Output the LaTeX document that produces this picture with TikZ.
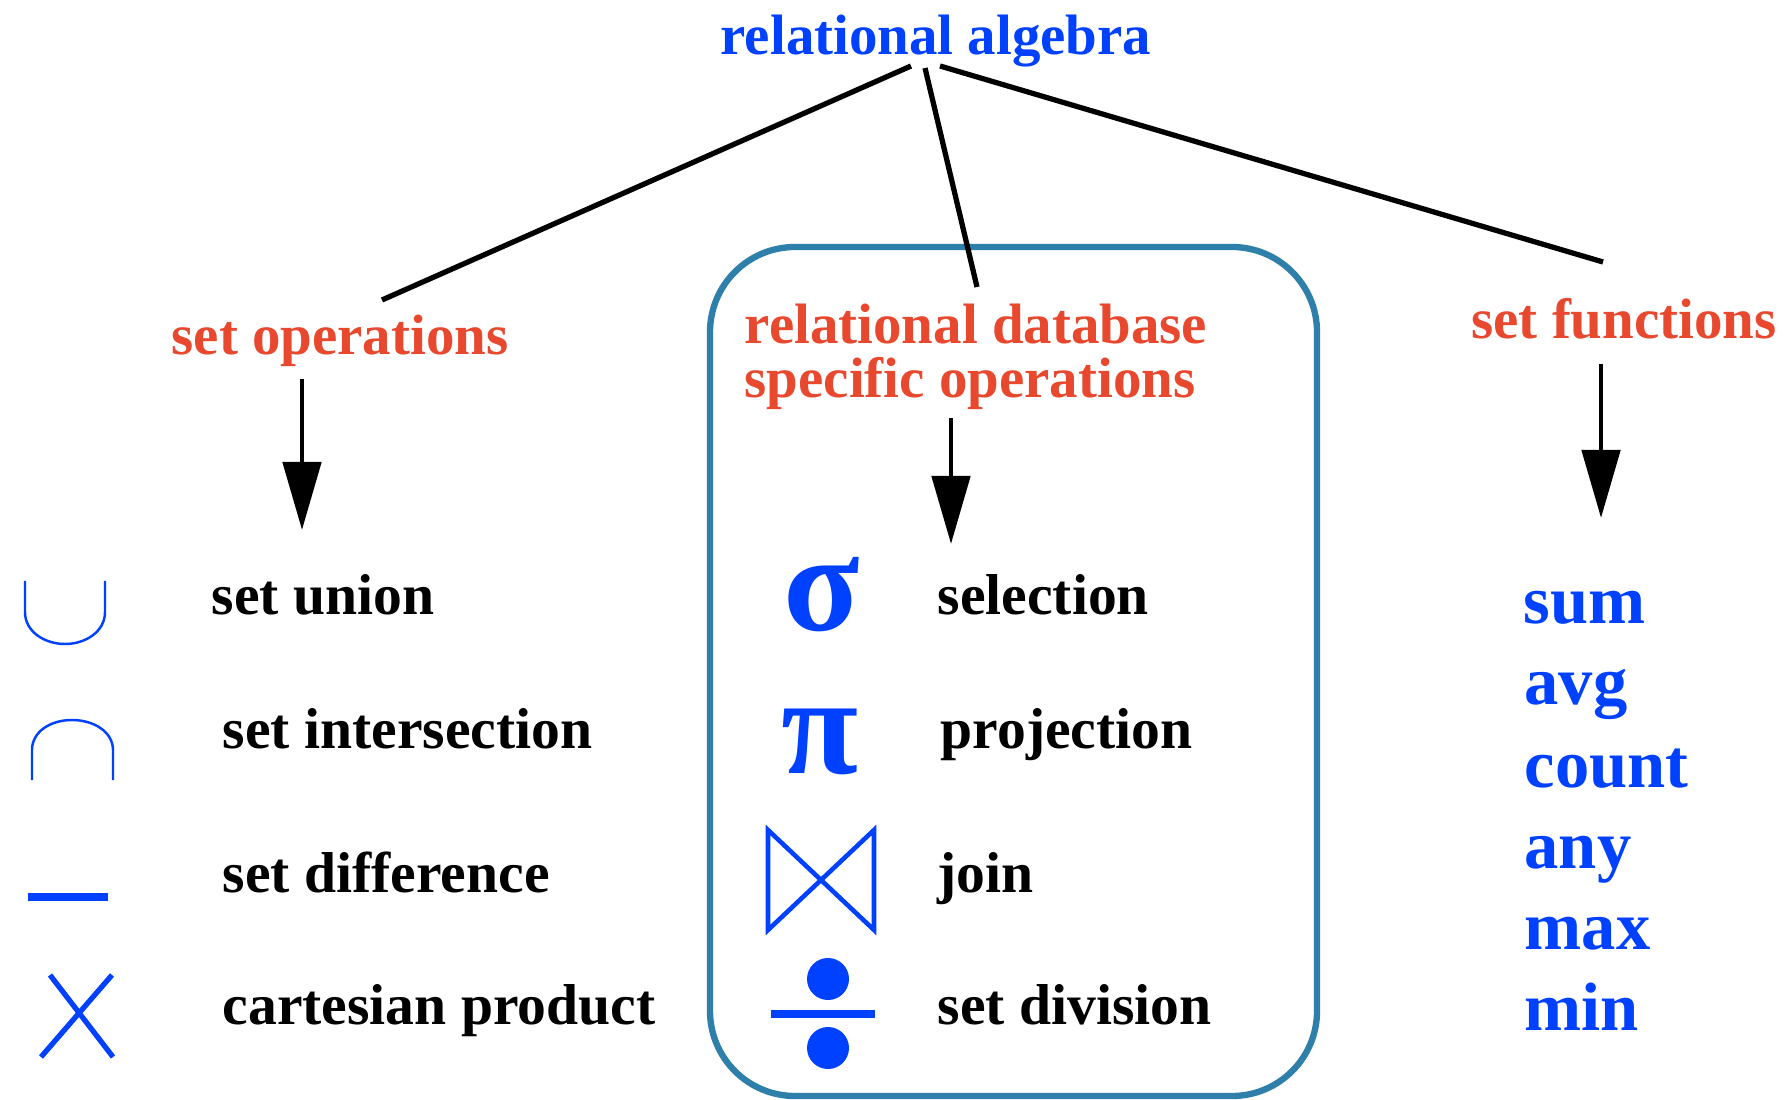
\documentclass[tikz,border=0pt]{standalone}
\usepackage{fontspec}
\setmainfont{Liberation Serif}
\usetikzlibrary{arrows.meta}
\definecolor{rablue}{RGB}{0,64,255}
\definecolor{rared}{RGB}{232,72,46}
\definecolor{boxblue}{RGB}{46,127,170}
\begin{document}
\begin{tikzpicture}[x=0.1mm,y=-0.1mm,
  item/.style={anchor=base west, inner sep=0pt, font=\fontsize{16.4}{18}\selectfont\bfseries},
  head/.style={anchor=base, inner sep=0pt, text=rared, font=\fontsize{16.2}{18}\selectfont\bfseries},
  func/.style={anchor=base west, inner sep=0pt, text=rablue, font=\fontsize{19.5}{22}\selectfont\bfseries},
  greek/.style={inner sep=0pt, text=rablue, font=\fontsize{40}{40}\selectfont\bfseries},
  link/.style={line width=1.5pt},
  down/.style={line width=1.4pt, -{Triangle[width=3.8mm,length=6.8mm]}},
  thinsym/.style={draw=rablue, line width=0.7pt},
  thicksym/.style={draw=rablue, line width=1.5pt},
  grp/.style={draw=boxblue, line width=1.8pt, rounded corners=8.5mm}]
\fill[white] (0,0) rectangle (1786,1100);
\useasboundingbox (0,0) rectangle (1786,1100);

% group box
\draw[grp] (710,247) rectangle (1317,1096);

% title and headings
\node[anchor=base, inner sep=0pt, text=rablue, font=\fontsize{16.2}{18}\selectfont\bfseries] (ra) at (936,55) {relational algebra};
\node[head] (so) at (340,355) {set operations};
\node[head] (rdb) at (976,344) {relational database};
\node[head] (rdb2) at (970,398) {specific operations};
\node[head] (sf) at (1624,339) {set functions};

% connector end points
\coordinate (ral) at (911,66);
\coordinate (ram) at (925,68);
\coordinate (rar) at (940,66);
\coordinate (sotop) at (382,300);
\coordinate (rdbtop) at (977,287);
\coordinate (sftop) at (1603,262);
\draw[link] (ral) -- (sotop);
\draw[link] (ram) -- (rdbtop);
\draw[link] (rar) -- (sftop);

% arrows
\coordinate (soa) at (302,379);
\coordinate (sob) at (302,530);
\coordinate (rdba) at (951,418);
\coordinate (rdbb) at (951,544);
\coordinate (sfa) at (1601,364);
\coordinate (sfb) at (1601,518);
\draw[down] (soa) -- (sob);
\draw[down] (rdba) -- (rdbb);
\draw[down] (sfa) -- (sfb);

% set operation symbols
\draw[thinsym] (25,581) -- (25,612) .. controls (25,632) and (45,644) .. (65,644) .. controls (85,644) and (105,632) .. (105,612) -- (105,581);
\draw[thinsym] (32,780) -- (32,750) .. controls (32,732) and (50,720) .. (72,720) .. controls (94,720) and (113,732) .. (113,750) -- (113,780);
\fill[rablue] (28,893) rectangle (108,901);
\draw[thicksym] (50,975) -- (113,1057);
\draw[thicksym] (112,975) -- (41,1057);

% set operation labels
\node[item] (su) at (211,615) {set union};
\node[item] (si) at (222,748) {set intersection};
\node[item] (sd) at (222,892) {set difference};
\node[item] (cp) at (222,1024) {cartesian product};

% relational symbols
\node[greek] (sig) at (822,595) {σ};
\node[greek] (pi) at (820,742) {π};
\draw[rablue, line width=1.3pt, line join=miter] (768,830) -- (874,930) -- (874,830) -- (768,930) -- cycle;
\fill[rablue] (771,1010) rectangle (875,1018);
\fill[rablue] (828,979) circle (21);
\fill[rablue] (828,1048) circle (21);

% relational labels
\node[item] (sel) at (937,615) {selection};
\node[item] (proj) at (940,748) {projection};
\node[item] (join) at (937,892) {join};
\node[item] (div) at (937,1024) {set division};

% set functions
\node[func] (sum) at (1523,624) {sum};
\node[func] (avg) at (1524,705) {avg};
\node[func] (count) at (1524,787) {count};
\node[func] (any) at (1524,868) {any};
\node[func] (max) at (1524,949) {max};
\node[func] (min) at (1524,1030) {min};
\end{tikzpicture}
\end{document}
